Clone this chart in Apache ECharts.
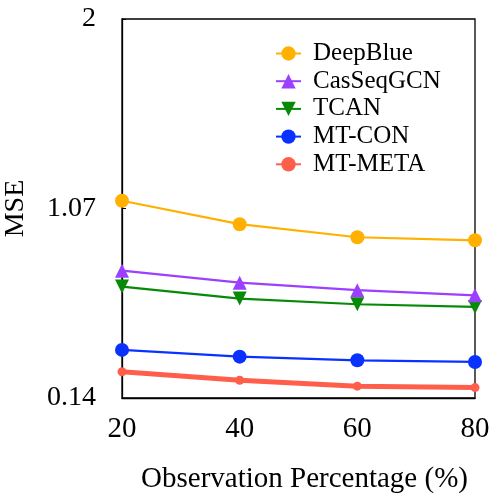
<!DOCTYPE html>
<html>
<head>
<meta charset="utf-8">
<script src="https://cdn.jsdelivr.net/npm/echarts@6/dist/echarts.min.js"></script>
<style>html,body{margin:0;padding:0;background:#fff;}#c{width:498px;height:497px;}</style>
</head>
<body>
<div id="c"></div>
<script>
var xValues = [20, 40, 60, 80];
var yTicks = [0.14, 1.07, 2];
var xTicks = [20, 40, 60, 80];
var seriesNames = ['DeepBlue', 'CasSeqGCN', 'TCAN', 'MT-CON', 'MT-META'];
var deepBlue  = [1.108, 0.993, 0.929, 0.914];
var casSeqGCN = [0.765, 0.706, 0.669, 0.644];
var tcan      = [0.687, 0.628, 0.600, 0.587];
var mtCon     = [0.376, 0.343, 0.325, 0.317];
var mtMeta    = [0.269, 0.227, 0.198, 0.191];

var font = '"Liberation Serif", "Times New Roman", serif';
function pairs(arr){ return xValues.map(function(x,i){ return [x, arr[i]]; }); }

var styles = [
  {data: deepBlue,  color: '#FFB000', symbol: 'circle',   size: 14, width: 2.2, rot: 0},
  {data: casSeqGCN, color: '#9B40FF', symbol: 'triangle', size: 14, width: 2.2, rot: 0},
  {data: tcan,      color: '#078A07', symbol: 'triangle', size: 14, width: 2.2, rot: 180},
  {data: mtCon,     color: '#0A32FF', symbol: 'circle',   size: 14, width: 2.2, rot: 0},
  {data: mtMeta,    color: '#FF5F4A', symbol: 'circle',   size: 9,  width: 5, rot: 0}
];

var chart = echarts.init(document.getElementById('c'), null, {renderer: 'canvas'});
chart.setOption({
  animation: false,
  backgroundColor: '#fff',
  grid: {left: 122, right: 23, top: 19, bottom: 99, containLabel: false, outerBoundsMode: 'none',
    show: true, borderColor: '#000', borderWidth: 1.3, backgroundColor: 'transparent'},
  legend: {
    data: seriesNames,
    left: 270, top: 36, orient: 'vertical',
    itemWidth: 25, itemHeight: 18, itemGap: 2.7,
    textStyle: {fontFamily: font, fontSize: 25, color: '#000', lineHeight: 24, padding: [0,0,0,7]}
  },
  xAxis: {
    type: 'value', min: 20, max: 80, interval: 20,
    name: 'Observation Percentage (%)', nameLocation: 'middle', nameGap: 67,
    nameTextStyle: {fontFamily: font, fontSize: 29, color: '#000', padding: [0,0,0,12]},
    axisLine: {show: true, lineStyle: {color: '#000', width: 1.3}},
    axisTick: {show: false},
    splitLine: {show: false},
    axisLabel: {fontFamily: font, fontSize: 29, color: '#000', margin: 17, customValues: xTicks}
  },
  yAxis: {
    type: 'value', min: 0.14, max: 2,
    name: 'MSE', nameLocation: 'middle', nameGap: 92, nameRotate: 90,
    nameTextStyle: {fontFamily: font, fontSize: 28, color: '#000'},
    axisLine: {show: true, lineStyle: {color: '#000', width: 1.3}},
    axisTick: {show: true, inside: true, length: 4, lineStyle: {color: '#000'}, customValues: yTicks},
    splitLine: {show: false},
    axisLabel: {fontFamily: font, fontSize: 28, color: '#000', margin: 26, customValues: yTicks,
      formatter: function(v){ return String(+v.toFixed(2)); }}
  },
  series: styles.map(function(s, i){
    return {
      name: seriesNames[i], type: 'line', data: pairs(s.data),
      symbol: s.symbol, symbolSize: s.size, symbolRotate: s.rot,
      showSymbol: true,
      lineStyle: {color: s.color, width: s.width},
      itemStyle: {color: s.color},
      z: 10 - i
    };
  })
});
</script>
</body>
</html>
